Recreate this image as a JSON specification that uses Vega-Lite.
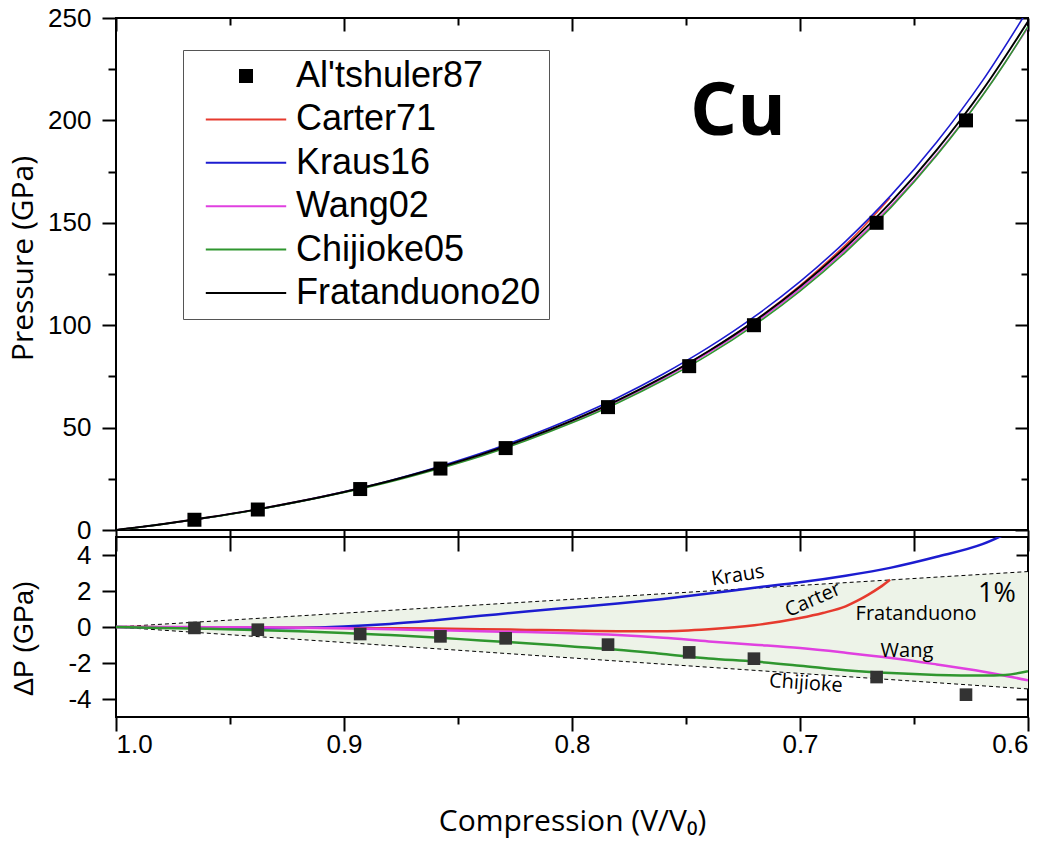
{
  "$schema": "https://vega.github.io/schema/vega-lite/v6.json",
  "autosize": {"type": "pad"},
  "padding": {"left": 7, "top": 4, "right": 23, "bottom": 4},
  "bounds": "flush",
  "spacing": 7,
  "config": {
    "view": {"stroke": "black", "strokeWidth": 2},
    "axis": {"domain": false, "grid": false, "tickColor": "black", "tickWidth": 2, "labelColor": "black", "titleColor": "black", "labelFont": "Liberation Sans", "labelFontSize": 26, "titleFontWeight": "normal"},
    "font": "Liberation Sans"
  },
  "datasets": {
    "curves": [
      {"m": "Carter71", "V": 1.0, "P": 0, "d": 0},
      {"m": "Carter71", "V": 0.98, "P": 2.79, "d": -0.01},
      {"m": "Carter71", "V": 0.96, "P": 6.03, "d": -0.02},
      {"m": "Carter71", "V": 0.94, "P": 9.67, "d": -0.03},
      {"m": "Carter71", "V": 0.92, "P": 13.86, "d": -0.04},
      {"m": "Carter71", "V": 0.90, "P": 18.55, "d": -0.05},
      {"m": "Carter71", "V": 0.88, "P": 23.83, "d": -0.07},
      {"m": "Carter71", "V": 0.86, "P": 29.91, "d": -0.09},
      {"m": "Carter71", "V": 0.84, "P": 36.68, "d": -0.12},
      {"m": "Carter71", "V": 0.82, "P": 44.44, "d": -0.16},
      {"m": "Carter71", "V": 0.80, "P": 53.2, "d": -0.2},
      {"m": "Carter71", "V": 0.78, "P": 63.07, "d": -0.23},
      {"m": "Carter71", "V": 0.76, "P": 74.37, "d": -0.23},
      {"m": "Carter71", "V": 0.74, "P": 87.28, "d": -0.12},
      {"m": "Carter71", "V": 0.72, "P": 102.1, "d": 0.1},
      {"m": "Carter71", "V": 0.70, "P": 119.3, "d": 0.5},
      {"m": "Carter71", "V": 0.69, "P": 128.98, "d": 0.78},
      {"m": "Carter71", "V": 0.68, "P": 139.25, "d": 1.15},
      {"m": "Carter71", "V": 0.675, "P": 144.8, "d": 1.45},
      {"m": "Carter71", "V": 0.67, "P": 150.7, "d": 1.8},
      {"m": "Carter71", "V": 0.665, "P": 156.6, "d": 2.2},
      {"m": "Carter71", "V": 0.6605, "P": 162.2, "d": 2.63},
      {"m": "Kraus16", "V": 1.0, "P": 0, "d": 0},
      {"m": "Kraus16", "V": 0.98, "P": 2.77, "d": -0.03},
      {"m": "Kraus16", "V": 0.96, "P": 5.99, "d": -0.06},
      {"m": "Kraus16", "V": 0.94, "P": 9.63, "d": -0.07},
      {"m": "Kraus16", "V": 0.92, "P": 13.85, "d": -0.05},
      {"m": "Kraus16", "V": 0.90, "P": 18.63, "d": 0.03},
      {"m": "Kraus16", "V": 0.88, "P": 24.07, "d": 0.17},
      {"m": "Kraus16", "V": 0.86, "P": 30.38, "d": 0.38},
      {"m": "Kraus16", "V": 0.84, "P": 37.42, "d": 0.62},
      {"m": "Kraus16", "V": 0.82, "P": 45.46, "d": 0.86},
      {"m": "Kraus16", "V": 0.80, "P": 54.48, "d": 1.08},
      {"m": "Kraus16", "V": 0.78, "P": 64.6, "d": 1.3},
      {"m": "Kraus16", "V": 0.76, "P": 76.16, "d": 1.56},
      {"m": "Kraus16", "V": 0.74, "P": 89.26, "d": 1.86},
      {"m": "Kraus16", "V": 0.72, "P": 104.18, "d": 2.18},
      {"m": "Kraus16", "V": 0.70, "P": 121.28, "d": 2.48},
      {"m": "Kraus16", "V": 0.68, "P": 140.95, "d": 2.85},
      {"m": "Kraus16", "V": 0.66, "P": 163.5, "d": 3.3},
      {"m": "Kraus16", "V": 0.64, "P": 189.5, "d": 3.9},
      {"m": "Kraus16", "V": 0.62, "P": 219.3, "d": 4.6},
      {"m": "Kraus16", "V": 0.60, "P": 254.1, "d": 5.8},
      {"m": "Wang02", "V": 1.0, "P": 0, "d": 0},
      {"m": "Wang02", "V": 0.98, "P": 2.8, "d": 0},
      {"m": "Wang02", "V": 0.96, "P": 6.04, "d": -0.01},
      {"m": "Wang02", "V": 0.94, "P": 9.68, "d": -0.02},
      {"m": "Wang02", "V": 0.92, "P": 13.86, "d": -0.04},
      {"m": "Wang02", "V": 0.90, "P": 18.53, "d": -0.07},
      {"m": "Wang02", "V": 0.88, "P": 23.78, "d": -0.12},
      {"m": "Wang02", "V": 0.86, "P": 29.82, "d": -0.18},
      {"m": "Wang02", "V": 0.84, "P": 36.56, "d": -0.24},
      {"m": "Wang02", "V": 0.82, "P": 44.32, "d": -0.28},
      {"m": "Wang02", "V": 0.80, "P": 53.05, "d": -0.35},
      {"m": "Wang02", "V": 0.78, "P": 62.85, "d": -0.45},
      {"m": "Wang02", "V": 0.76, "P": 74.0, "d": -0.6},
      {"m": "Wang02", "V": 0.74, "P": 86.6, "d": -0.8},
      {"m": "Wang02", "V": 0.72, "P": 101.02, "d": -0.98},
      {"m": "Wang02", "V": 0.70, "P": 117.63, "d": -1.17},
      {"m": "Wang02", "V": 0.68, "P": 136.67, "d": -1.43},
      {"m": "Wang02", "V": 0.66, "P": 158.48, "d": -1.72},
      {"m": "Wang02", "V": 0.64, "P": 183.52, "d": -2.08},
      {"m": "Wang02", "V": 0.62, "P": 212.23, "d": -2.47},
      {"m": "Wang02", "V": 0.60, "P": 245.34, "d": -2.96},
      {"m": "Chijioke05", "V": 1.0, "P": 0, "d": 0},
      {"m": "Chijioke05", "V": 0.98, "P": 2.75, "d": -0.05},
      {"m": "Chijioke05", "V": 0.96, "P": 5.95, "d": -0.1},
      {"m": "Chijioke05", "V": 0.94, "P": 9.54, "d": -0.16},
      {"m": "Chijioke05", "V": 0.92, "P": 13.66, "d": -0.24},
      {"m": "Chijioke05", "V": 0.90, "P": 18.27, "d": -0.33},
      {"m": "Chijioke05", "V": 0.88, "P": 23.45, "d": -0.45},
      {"m": "Chijioke05", "V": 0.86, "P": 29.42, "d": -0.58},
      {"m": "Chijioke05", "V": 0.84, "P": 36.05, "d": -0.75},
      {"m": "Chijioke05", "V": 0.82, "P": 43.7, "d": -0.9},
      {"m": "Chijioke05", "V": 0.80, "P": 52.32, "d": -1.08},
      {"m": "Chijioke05", "V": 0.78, "P": 62.04, "d": -1.26},
      {"m": "Chijioke05", "V": 0.76, "P": 73.1, "d": -1.5},
      {"m": "Chijioke05", "V": 0.74, "P": 85.65, "d": -1.75},
      {"m": "Chijioke05", "V": 0.72, "P": 100.08, "d": -1.92},
      {"m": "Chijioke05", "V": 0.70, "P": 116.65, "d": -2.15},
      {"m": "Chijioke05", "V": 0.68, "P": 135.7, "d": -2.4},
      {"m": "Chijioke05", "V": 0.66, "P": 157.64, "d": -2.56},
      {"m": "Chijioke05", "V": 0.64, "P": 182.94, "d": -2.66},
      {"m": "Chijioke05", "V": 0.62, "P": 212.0, "d": -2.7},
      {"m": "Chijioke05", "V": 0.61, "P": 228.3, "d": -2.66},
      {"m": "Chijioke05", "V": 0.60, "P": 245.84, "d": -2.46},
      {"m": "Fratanduono20", "V": 1.0, "P": 0, "d": 0},
      {"m": "Fratanduono20", "V": 0.98, "P": 2.8, "d": 0},
      {"m": "Fratanduono20", "V": 0.96, "P": 6.05, "d": 0},
      {"m": "Fratanduono20", "V": 0.94, "P": 9.7, "d": 0},
      {"m": "Fratanduono20", "V": 0.92, "P": 13.9, "d": 0},
      {"m": "Fratanduono20", "V": 0.90, "P": 18.6, "d": 0},
      {"m": "Fratanduono20", "V": 0.88, "P": 23.9, "d": 0},
      {"m": "Fratanduono20", "V": 0.86, "P": 30.0, "d": 0},
      {"m": "Fratanduono20", "V": 0.84, "P": 36.8, "d": 0},
      {"m": "Fratanduono20", "V": 0.82, "P": 44.6, "d": 0},
      {"m": "Fratanduono20", "V": 0.80, "P": 53.4, "d": 0},
      {"m": "Fratanduono20", "V": 0.78, "P": 63.3, "d": 0},
      {"m": "Fratanduono20", "V": 0.76, "P": 74.6, "d": 0},
      {"m": "Fratanduono20", "V": 0.74, "P": 87.4, "d": 0},
      {"m": "Fratanduono20", "V": 0.72, "P": 102.0, "d": 0},
      {"m": "Fratanduono20", "V": 0.70, "P": 118.8, "d": 0},
      {"m": "Fratanduono20", "V": 0.68, "P": 138.1, "d": 0},
      {"m": "Fratanduono20", "V": 0.66, "P": 160.2, "d": 0},
      {"m": "Fratanduono20", "V": 0.64, "P": 185.6, "d": 0},
      {"m": "Fratanduono20", "V": 0.62, "P": 214.7, "d": 0},
      {"m": "Fratanduono20", "V": 0.60, "P": 248.3, "d": 0}
    ],
    "alt": [
      {"m": "Al'tshuler87", "V": 0.9656, "P": 5, "d": -0.05},
      {"m": "Al'tshuler87", "V": 0.9378, "P": 10, "d": -0.15},
      {"m": "Al'tshuler87", "V": 0.8929, "P": 20, "d": -0.39},
      {"m": "Al'tshuler87", "V": 0.8577, "P": 30, "d": -0.52},
      {"m": "Al'tshuler87", "V": 0.8291, "P": 40, "d": -0.63},
      {"m": "Al'tshuler87", "V": 0.7842, "P": 60, "d": -0.98},
      {"m": "Al'tshuler87", "V": 0.7486, "P": 80, "d": -1.41},
      {"m": "Al'tshuler87", "V": 0.7202, "P": 100, "d": -1.76},
      {"m": "Al'tshuler87", "V": 0.6664, "P": 150, "d": -2.78},
      {"m": "Al'tshuler87", "V": 0.6272, "P": 200, "d": -3.76}
    ],
    "band": [
      {"V": 1.0, "hi": 0, "lo": 0},
      {"V": 0.6, "hi": 3.08, "lo": -3.44}
    ]
  },
  "resolve": {"scale": {"color": "independent"}},
  "vconcat": [
    {
      "width": 912,
      "height": 512,
      "resolve": {"axis": {"x": "independent", "y": "independent"}},
      "layer": [
        {
          "data": {"name": "curves"},
          "transform": [{"filter": "datum.m !== 'Fratanduono20'"}],
          "mark": {"type": "line", "strokeWidth": 1.6, "clip": true, "interpolate": "monotone"},
          "encoding": {
            "x": {"field": "V", "type": "quantitative",
                  "scale": {"domain": [0.6, 1.0], "reverse": true, "nice": false, "zero": false},
                  "axis": {"orient": "bottom", "values": [1.0, 0.95, 0.9, 0.85, 0.8, 0.75, 0.7, 0.65, 0.6], "tickSize": 21, "labels": false, "title": null}},
            "y": {"field": "P", "type": "quantitative",
                  "scale": {"domain": [0, 250], "nice": false, "zero": false},
                  "axis": {"orient": "left", "values": [0, 50, 100, 150, 200, 250], "tickSize": 14, "labelPadding": 11,
                           "title": "Pressure (GPa)", "titleFont": "Open Sans", "titleFontSize": 30, "titlePadding": 10,
                           "minExtent": 68, "maxExtent": 68, "titleY": 240}},
            "color": {"field": "m", "type": "nominal",
                      "scale": {"domain": ["Al'tshuler87", "Carter71", "Kraus16", "Wang02", "Chijioke05", "Fratanduono20"],
                                "range": ["#000000", "#e63a2e", "#1c1cd0", "#e040e0", "#2f962f", "#000000"]},
                      "legend": {
                        "orient": "none", "legendX": 67, "legendY": 32, "direction": "vertical", "title": null,
                        "labelFont": "Liberation Sans", "labelFontSize": 36, "labelColor": "black", "labelLimit": 500,
                        "symbolSize": 144, "symbolStrokeWidth": 2, "symbolOffset": 37, "labelOffset": 32,
                        "rowPadding": 7.4, "padding": 8, "strokeColor": "#555555", "fillColor": "white",
                        "encode": {
                          "symbols": {
                            "update": {
                              "shape": [{"test": "datum.index === 0", "value": "square"}, {"value": "M-6.7,0H6.7"}],
                              "fill": [{"test": "datum.index === 0", "value": "black"}, {"value": "transparent"}],
                              "stroke": [
                                {"test": "datum.index === 0", "value": "black"},
                                {"test": "datum.index === 1", "value": "#e63a2e"},
                                {"test": "datum.index === 2", "value": "#1c1cd0"},
                                {"test": "datum.index === 3", "value": "#e040e0"},
                                {"test": "datum.index === 4", "value": "#2f962f"},
                                {"value": "black"}
                              ]
                            }
                          }
                        }
                      }}
          }
        },
        {
          "data": {"name": "curves"},
          "transform": [{"filter": "datum.m === 'Fratanduono20'"}],
          "mark": {"type": "line", "strokeWidth": 2, "color": "black", "clip": true, "interpolate": "monotone"},
          "encoding": {
            "x": {"field": "V", "type": "quantitative", "axis": null},
            "y": {"field": "P", "type": "quantitative",
                  "axis": {"orient": "right", "values": [25, 75, 125, 175, 225], "tickSize": -7, "labels": false, "title": null}}
          }
        },
        {
          "data": {"name": "alt"},
          "mark": {"type": "point", "shape": "square", "filled": true, "size": 196, "opacity": 1},
          "encoding": {
            "x": {"field": "V", "type": "quantitative",
                  "axis": {"orient": "top", "values": [1.0, 0.9, 0.8, 0.7, 0.6], "tickSize": -13, "labels": false, "title": null}},
            "y": {"field": "P", "type": "quantitative",
                  "axis": {"orient": "left", "values": [25, 75, 125, 175, 225], "tickSize": 8, "labels": false, "title": null}},
            "color": {"field": "m", "type": "nominal", "legend": null}
          }
        },
        {
          "data": {"values": [{"t": "Cu", "V": 0.7272, "P": 203.5}]},
          "mark": {"type": "text", "font": "Open Sans", "fontWeight": "bold", "fontSize": 74, "color": "black", "align": "center", "baseline": "middle"},
          "encoding": {
            "x": {"field": "V", "type": "quantitative",
                  "axis": {"orient": "top", "values": [0.95, 0.85, 0.75, 0.65], "tickSize": -7, "labels": false, "title": null}},
            "y": {"field": "P", "type": "quantitative",
                  "axis": {"orient": "right", "values": [0, 50, 100, 150, 200, 250], "tickSize": -13, "labels": false, "title": null}},
            "text": {"field": "t"}
          }
        }
      ]
    },
    {
      "width": 912,
      "height": 180,
      "resolve": {"axis": {"x": "independent", "y": "independent"}},
      "layer": [
        {
          "data": {"name": "band"},
          "mark": {"type": "area", "color": "#edf3e8", "opacity": 1},
          "encoding": {
            "x": {"field": "V", "type": "quantitative",
                  "scale": {"domain": [0.6, 1.0], "reverse": true, "nice": false, "zero": false},
                  "axis": {"orient": "bottom", "values": [1.0, 0.9, 0.8, 0.7, 0.6], "format": ".1f", "tickSize": 14, "labelPadding": 0,
                           "title": "Compression (V/V₀)", "titleFont": "Open Sans", "titleFontSize": 30, "titlePadding": 49}},
            "y": {"field": "hi", "type": "quantitative",
                  "scale": {"domain": [-5, 5], "nice": false, "zero": false},
                  "axis": {"orient": "left", "values": [-4, -2, 0, 2, 4], "labelExpr": "'' + datum.value", "tickSize": 14, "labelPadding": 11,
                           "title": "ΔP (GPa)", "titleFont": "Liberation Sans", "titleFontSize": 27, "titlePadding": 10,
                           "minExtent": 68, "maxExtent": 68, "titleY": 101}},
            "y2": {"field": "lo"}
          }
        },
        {
          "data": {"name": "band"},
          "mark": {"type": "line", "color": "black", "strokeWidth": 1, "strokeDash": [4, 3]},
          "encoding": {
            "x": {"field": "V", "type": "quantitative",
                  "axis": {"orient": "bottom", "values": [0.95, 0.85, 0.75, 0.65], "tickSize": 7, "labels": false, "title": null}},
            "y": {"field": "hi", "type": "quantitative",
                  "axis": {"orient": "right", "values": [-4, -2, 0, 2, 4], "tickSize": -12, "labels": false, "title": null}}
          }
        },
        {
          "data": {"name": "band"},
          "mark": {"type": "line", "color": "black", "strokeWidth": 1, "strokeDash": [4, 3]},
          "encoding": {
            "x": {"field": "V", "type": "quantitative", "axis": null},
            "y": {"field": "lo", "type": "quantitative", "axis": null}
          }
        },
        {
          "data": {"name": "curves"},
          "transform": [{"filter": "datum.m !== 'Fratanduono20'"}],
          "mark": {"type": "line", "strokeWidth": 2.5, "clip": true, "interpolate": "monotone"},
          "encoding": {
            "x": {"field": "V", "type": "quantitative", "axis": null},
            "y": {"field": "d", "type": "quantitative", "axis": null},
            "color": {"field": "m", "type": "nominal",
                      "scale": {"domain": ["Al'tshuler87", "Carter71", "Kraus16", "Wang02", "Chijioke05", "Fratanduono20"],
                                "range": ["#000000", "#e63a2e", "#1c1cd0", "#e040e0", "#2f962f", "#000000"]},
                      "legend": null}
          }
        },
        {
          "mark": {"type": "rule", "color": "black", "strokeWidth": 3},
          "encoding": {"y": {"datum": 0, "type": "quantitative", "axis": null}}
        },
        {
          "data": {"name": "alt"},
          "mark": {"type": "point", "shape": "square", "filled": true, "size": 160, "color": "#333333", "opacity": 1},
          "encoding": {
            "x": {"field": "V", "type": "quantitative", "axis": null},
            "y": {"field": "d", "type": "quantitative", "axis": null}
          }
        },
        {
          "data": {"values": [{"t": "Kraus", "V": 0.7272, "d": 2.86}]},
          "mark": {"type": "text", "font": "Open Sans", "fontSize": 20, "color": "black", "angle": 351},
          "encoding": {"x": {"field": "V", "type": "quantitative", "axis": null}, "y": {"field": "d", "type": "quantitative", "axis": null}, "text": {"field": "t"}}
        },
        {
          "data": {"values": [{"t": "Carter", "V": 0.6943, "d": 1.51}]},
          "mark": {"type": "text", "font": "Open Sans", "fontSize": 20, "color": "black", "angle": 336},
          "encoding": {"x": {"field": "V", "type": "quantitative", "axis": null}, "y": {"field": "d", "type": "quantitative", "axis": null}, "text": {"field": "t"}}
        },
        {
          "data": {"values": [{"t": "Fratanduono", "V": 0.6491, "d": 0.73}, {"t": "Wang", "V": 0.6531, "d": -1.34}]},
          "mark": {"type": "text", "font": "Open Sans", "fontSize": 20, "color": "black"},
          "encoding": {"x": {"field": "V", "type": "quantitative", "axis": null}, "y": {"field": "d", "type": "quantitative", "axis": null}, "text": {"field": "t"}}
        },
        {
          "data": {"values": [{"t": "Chijioke", "V": 0.6974, "d": -3.14}]},
          "mark": {"type": "text", "font": "Open Sans", "fontSize": 20, "color": "black", "angle": 4},
          "encoding": {"x": {"field": "V", "type": "quantitative", "axis": null}, "y": {"field": "d", "type": "quantitative", "axis": null}, "text": {"field": "t"}}
        },
        {
          "data": {"values": [{"t": "1%", "V": 0.6136, "d": 1.85}]},
          "mark": {"type": "text", "font": "Open Sans", "fontSize": 27, "color": "black"},
          "encoding": {"x": {"field": "V", "type": "quantitative", "axis": null}, "y": {"field": "d", "type": "quantitative", "axis": null}, "text": {"field": "t"}}
        }
      ]
    }
  ]
}
